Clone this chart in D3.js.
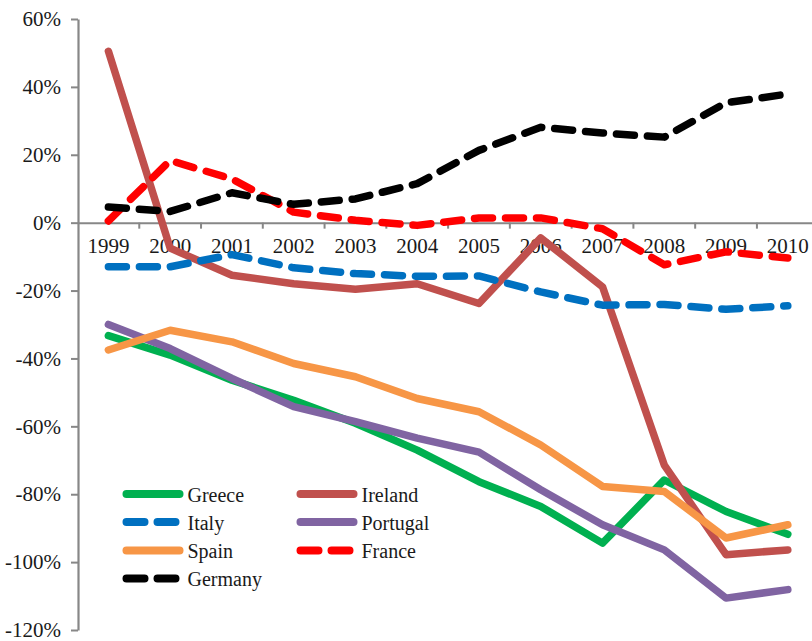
<!DOCTYPE html>
<html>
<head>
<meta charset="utf-8">
<script src="https://cdn.jsdelivr.net/npm/d3@7"></script>
<style>
  html, body { margin: 0; padding: 0; background: #fff; }
  svg { display: block; }
</style>
</head>
<body>
<svg id="chart" width="812" height="641"></svg>
<script>
// ---- data ----
const years = ["1999","2000","2001","2002","2003","2004","2005","2006","2007","2008","2009","2010"];
const greece   = [-33.3, -39.0, -46.4, -52.3, -59.1, -67.0, -76.3, -83.6, -94.4, -75.8, -85.1, -91.8];
const ireland  = [50.5, -7.5, -15.5, -18.0, -19.6, -18.0, -23.8, -4.5, -18.9, -71.4, -97.8, -96.4];
const italy    = [-13.0, -13.0, -9.4, -13.3, -15.0, -15.8, -15.7, -20.4, -24.3, -24.1, -25.5, -24.5];
const portugal = [-30.0, -37.1, -45.9, -54.2, -58.6, -63.5, -67.6, -78.7, -89.0, -96.4, -110.6, -108.1];
const spain    = [-37.5, -31.7, -35.1, -41.5, -45.4, -51.8, -55.7, -65.5, -77.7, -79.2, -92.9, -89.0];
const france   = [0.5, 18.3, 12.9, 3.1, 0.7, -0.8, 1.4, 1.4, -1.8, -12.4, -8.6, -10.4];
const germany  = [4.6, 3.3, 8.8, 5.4, 7.0, 11.5, 21.3, 28.1, 26.4, 25.2, 35.3, 37.9];
const yTickValues = [60, 40, 20, 0, -20, -40, -60, -80, -100, -120];

const seriesNames  = ["Greece", "Ireland", "Italy", "Portugal", "Spain", "France", "Germany"];
const seriesValues = [greece, ireland, italy, portugal, spain, france, germany];
const seriesColors = ["#00b050", "#c0504d", "#0070c0", "#8064a2", "#f79646", "#ff0000", "#000000"];
const seriesDashed = [false, false, true, false, false, true, true];

const FONT = "Liberation Serif";
const TEXT_COLOR = "#1a1a1a";

// ---- layout ----
const svg = d3.select("#chart");
svg.append("rect").attr("width", 812).attr("height", 641).attr("fill", "#fff");

const x = d3.scaleBand().domain(years).range([77.5, 818.7]);
const y = d3.scaleLinear().domain([-120, 60]).range([630, 19]);
const cx = d => x(d) + x.bandwidth() / 2;
const axisColor = "#878787";

// Y axis
const yAxis = svg.append("g").attr("transform", "translate(78,0)")
  .call(d3.axisLeft(y).tickValues(yTickValues).tickSize(7).tickSizeOuter(0).tickPadding(10)
        .tickFormat(d => d + "%"));
yAxis.attr("font-family", FONT).attr("font-size", 21);
yAxis.select(".domain").attr("stroke", axisColor).attr("stroke-width", 2.2);
yAxis.selectAll(".tick line").attr("stroke", axisColor).attr("stroke-width", 2);
yAxis.selectAll(".tick text").attr("fill", TEXT_COLOR);

// X axis at 0%
const xAxis = svg.append("g").attr("transform", `translate(0,${y(0)})`)
  .call(d3.axisBottom(x).tickSize(0).tickSizeOuter(0).tickPadding(15));
xAxis.attr("font-family", FONT).attr("font-size", 21);
xAxis.select(".domain").attr("stroke", axisColor).attr("stroke-width", 2);
xAxis.selectAll(".tick text").attr("fill", TEXT_COLOR);
// boundary ticks between categories
xAxis.selectAll("line.bt").data(years.slice(1)).enter().append("line")
  .attr("class", "bt")
  .attr("x1", d => x(d)).attr("x2", d => x(d))
  .attr("y1", 0).attr("y2", 6)
  .attr("stroke", axisColor).attr("stroke-width", 2);

// ---- lines ----
const line = d3.line().x((d, i) => cx(years[i])).y(d => y(d));
seriesValues.forEach((vals, k) => {
  svg.append("path")
    .datum(vals)
    .attr("d", line)
    .attr("fill", "none")
    .attr("stroke", seriesColors[k])
    .attr("stroke-width", 7.5)
    .attr("stroke-linejoin", "round")
    .attr("stroke-linecap", "round")
    .attr("stroke-dasharray", seriesDashed[k] ? "18,13" : null);
});

// ---- legend ----
const legendCols = [126.5, 300.5];
const legendRows = [494, 522, 550.5, 578.5];
const lg = svg.append("g").attr("font-family", FONT).attr("font-size", 20);
seriesNames.forEach((name, k) => {
  const col = k % 2, row = Math.floor(k / 2);
  const lx = legendCols[col], ly = legendRows[row];
  lg.append("line")
    .attr("x1", lx).attr("x2", lx + 53)
    .attr("y1", ly).attr("y2", ly)
    .attr("stroke", seriesColors[k])
    .attr("stroke-width", 8)
    .attr("stroke-linecap", "round")
    .attr("stroke-dasharray", seriesDashed[k] ? "18,13" : null);
  lg.append("text")
    .attr("x", lx + 61).attr("y", ly + 7.5)
    .attr("fill", TEXT_COLOR)
    .text(name);
});
</script>
</body>
</html>
